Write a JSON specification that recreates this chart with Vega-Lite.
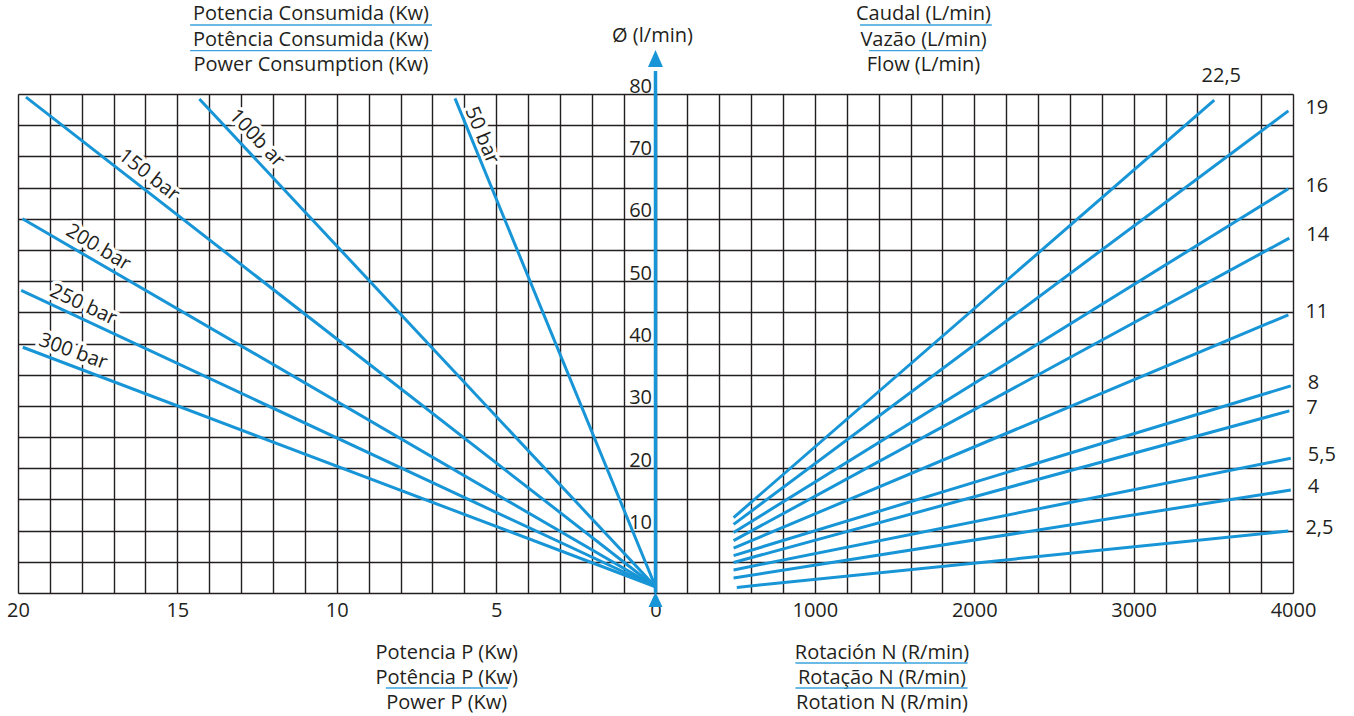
{
  "$schema": "https://vega.github.io/schema/vega-lite/v6.json",
  "width": 1275,
  "height": 499,
  "autosize": {"type": "none"},
  "padding": {"left": 18, "top": 94, "right": 61, "bottom": 123},
  "background": "white",
  "config": {
    "view": {"stroke": null},
    "font": "Open Sans",
    "text": {"fontSize": 20, "color": "#231f20"},
    "axis": {"labelFontSize": 20, "labelColor": "#231f20", "labelFont": "Open Sans"}
  },
  "datasets": {
    "pressureLines": [
      {"pressure": "50 bar", "power": 6.29, "flow": 79.3}, {"pressure": "50 bar", "power": 0, "flow": 1},
      {"pressure": "100 bar", "power": 14.31, "flow": 79.2}, {"pressure": "100 bar", "power": 0, "flow": 1},
      {"pressure": "150 bar", "power": 19.75, "flow": 79.5}, {"pressure": "150 bar", "power": 0, "flow": 1},
      {"pressure": "200 bar", "power": 19.86, "flow": 60.0}, {"pressure": "200 bar", "power": 0, "flow": 1},
      {"pressure": "250 bar", "power": 19.9, "flow": 48.5}, {"pressure": "250 bar", "power": 0, "flow": 1},
      {"pressure": "300 bar", "power": 19.85, "flow": 39.4}, {"pressure": "300 bar", "power": 0, "flow": 1}
    ],
    "pressureLabels": [
      {"pressure": 50, "label": "50 bar", "power": 5.45, "flow": 73.4},
      {"pressure": 100, "label": "100b ar", "power": 12.51, "flow": 72.9},
      {"pressure": 150, "label": "150 bar", "power": 15.89, "flow": 67.0},
      {"pressure": 200, "label": "200 bar", "power": 17.48, "flow": 55.4},
      {"pressure": 250, "label": "250 bar", "power": 17.95, "flow": 46.2},
      {"pressure": 300, "label": "300 bar", "power": 18.27, "flow": 38.7}
    ],
    "rpmLines": [
      {"cc": "22,5", "rpm": 490, "flow": 12.1}, {"cc": "22,5", "rpm": 3506, "flow": 79.0},
      {"cc": "19", "rpm": 490, "flow": 11.0}, {"cc": "19", "rpm": 3971, "flow": 77.3},
      {"cc": "16", "rpm": 490, "flow": 9.7}, {"cc": "16", "rpm": 3971, "flow": 64.8},
      {"cc": "14", "rpm": 490, "flow": 8.4}, {"cc": "14", "rpm": 3977, "flow": 56.9},
      {"cc": "11", "rpm": 490, "flow": 7.2}, {"cc": "11", "rpm": 3971, "flow": 44.6},
      {"cc": "8", "rpm": 490, "flow": 6.0}, {"cc": "8", "rpm": 3986, "flow": 33.2},
      {"cc": "7", "rpm": 490, "flow": 4.9}, {"cc": "7", "rpm": 3977, "flow": 29.2},
      {"cc": "5,5", "rpm": 490, "flow": 3.7}, {"cc": "5,5", "rpm": 3986, "flow": 21.6},
      {"cc": "4", "rpm": 490, "flow": 2.4}, {"cc": "4", "rpm": 3986, "flow": 16.5},
      {"cc": "2,5", "rpm": 510, "flow": 0.9}, {"cc": "2,5", "rpm": 3971, "flow": 9.94}
    ]
  },
  "resolve": {"scale": {"x": "independent"}, "axis": {"x": "independent"}},
  "layer": [
    {
      "layer": [
        {
          "data": {"name": "pressureLabels"},
          "mark": {"type": "text", "align": "center", "baseline": "middle", "color": "white", "stroke": "white", "strokeWidth": 7, "strokeJoin": "round"},
          "encoding": {
            "x": {
              "field": "power", "type": "quantitative",
              "scale": {"domain": [-20, 20], "reverse": true, "nice": false, "zero": false},
              "axis": {
                "orient": "bottom", "title": null, "tickCount": 200, "format": "d",
                "values": [-20,-19,-18,-17,-16,-15,-14,-13,-12,-11,-10,-9,-8,-7,-6,-5,-4,-3,-2,-1,0,1,2,3,4,5,6,7,8,9,10,11,12,13,14,15,16,17,18,19,20],
                "grid": true, "gridColor": "#231f20", "gridWidth": 1.4, "gridOpacity": 1,
                "ticks": false, "domain": false, "labelPadding": 7, "labelFlush": false, "labelOverlap": false,
                "labelExpr": "datum.value >= 0 && datum.value % 5 === 0 ? datum.label : ''"
              }
            },
            "y": {
              "field": "flow", "type": "quantitative",
              "scale": {"domain": [0, 80], "nice": false},
              "axis": {
                "orient": "left", "offset": -637.5, "title": null, "tickCount": 200, "format": "d",
                "values": [0,5,10,15,20,25,30,35,40,45,50,55,60,65,70,75,80],
                "grid": true, "gridColor": "#231f20", "gridWidth": 1.4, "gridOpacity": 1,
                "ticks": false, "domain": false, "labelPadding": 4, "labelOverlap": false, "labelFlush": false,
                "labelAlign": "right", "labelBaseline": "alphabetic", "labelOffset": -2,
                "labelExpr": "datum.value > 0 && datum.value % 10 === 0 ? datum.label : ''"
              }
            },
            "text": {"field": "label"},
            "angle": {"field": "pressure", "type": "quantitative", "scale": {"domain": [50, 100, 150, 200, 250, 300], "range": [67.7, 47, 38, 31, 25, 20]}}
          }
        },
        {
          "data": {"name": "pressureLines"},
          "mark": {"type": "line", "color": "#1795d6", "strokeWidth": 3},
          "encoding": {
            "x": {"field": "power", "type": "quantitative"},
            "y": {"field": "flow", "type": "quantitative"},
            "detail": {"field": "pressure"}
          }
        },
        {
          "data": {"name": "pressureLabels"},
          "mark": {"type": "text", "align": "center", "baseline": "middle"},
          "encoding": {
            "x": {"field": "power", "type": "quantitative"},
            "y": {"field": "flow", "type": "quantitative"},
            "text": {"field": "label"},
            "angle": {"field": "pressure", "type": "quantitative"}
          }
        },
        {
          "data": {"values": [{}]},
          "mark": {"type": "text", "align": "center", "baseline": "alphabetic", "lineHeight": 25.7,
                   "text": ["Potencia Consumida (Kw)", "Potência Consumida (Kw)", "Power Consumption (Kw)"]},
          "encoding": {"x": {"datum": 10.81}, "y": {"datum": 91.86}}
        },
        {
          "data": {"values": [{}]},
          "mark": {"type": "text", "align": "center", "baseline": "alphabetic", "lineHeight": 25,
                   "text": ["Potencia P (Kw)", "Potência P (Kw)", "Power P (Kw)"]},
          "encoding": {"x": {"datum": 6.55}, "y": {"datum": -10.58}}
        },
        {
          "data": {"values": [{}]},
          "mark": {"type": "rule", "color": "#3aa3dc", "strokeWidth": 1.3},
          "encoding": {"x": {"datum": 14.6}, "x2": {"datum": 7.01}, "y": {"datum": 91.06}}
        },
        {
          "data": {"values": [{}]},
          "mark": {"type": "rule", "color": "#3aa3dc", "strokeWidth": 1.3},
          "encoding": {"x": {"datum": 14.6}, "x2": {"datum": 7.01}, "y": {"datum": 86.94}}
        },
        {
          "data": {"values": [{}]},
          "mark": {"type": "rule", "color": "#3aa3dc", "strokeWidth": 1.3},
          "encoding": {"x": {"datum": 8.46}, "x2": {"datum": 4.63}, "y": {"datum": -15.23}}
        }
      ]
    },
    {
      "layer": [
        {
          "data": {"name": "rpmLines"},
          "mark": {"type": "line", "color": "#1795d6", "strokeWidth": 3},
          "encoding": {
            "x": {
              "field": "rpm", "type": "quantitative",
              "scale": {"domain": [-4000, 4000], "nice": false, "zero": false},
              "axis": {
                "orient": "bottom", "title": null, "values": [1000, 2000, 3000, 4000], "format": "d", "tickCount": 200,
                "grid": false, "ticks": false, "domain": false, "labelPadding": 7, "labelFlush": false, "labelOverlap": false
              }
            },
            "y": {"field": "flow", "type": "quantitative"},
            "detail": {"field": "cc"}
          }
        },
        {
          "data": {"name": "rpmLines"},
          "transform": [{"filter": "datum.rpm > 3600"}],
          "mark": {"type": "text", "align": "left", "baseline": "middle", "dx": 17, "dy": -3},
          "encoding": {
            "x": {"field": "rpm", "type": "quantitative"},
            "y": {"field": "flow", "type": "quantitative"},
            "text": {"field": "cc"}
          }
        },
        {
          "data": {"name": "rpmLines"},
          "transform": [{"filter": "datum.cc === '22,5' && datum.rpm > 3000"}],
          "mark": {"type": "text", "align": "center", "baseline": "middle", "dx": 7, "dy": -24.5},
          "encoding": {
            "x": {"field": "rpm", "type": "quantitative"},
            "y": {"field": "flow", "type": "quantitative"},
            "text": {"field": "cc"}
          }
        },
        {
          "data": {"values": [{}]},
          "mark": {"type": "rule", "color": "#1795d6", "strokeWidth": 3.5},
          "encoding": {"x": {"datum": 0}, "y": {"datum": 0}, "y2": {"datum": 83.7}}
        },
        {
          "data": {"values": [{}]},
          "mark": {"type": "point", "shape": "M0,-1L0.88,1L-0.88,1Z", "filled": true, "color": "#1795d6", "size": 289, "opacity": 1},
          "encoding": {"x": {"datum": 0}, "y": {"datum": 85.7}}
        },
        {
          "data": {"values": [{}]},
          "mark": {"type": "point", "shape": "M0,-1L0.93,1L-0.93,1Z", "filled": true, "color": "#1795d6", "size": 225, "opacity": 1},
          "encoding": {"x": {"datum": 0}, "y": {"datum": -1.04}}
        },
        {
          "data": {"values": [{}]},
          "mark": {"type": "text", "align": "center", "baseline": "alphabetic", "text": "Ø (l/min)"},
          "encoding": {"x": {"datum": -19}, "y": {"datum": 88.34}}
        },
        {
          "data": {"values": [{}]},
          "mark": {"type": "text", "align": "center", "baseline": "alphabetic", "lineHeight": 25.7,
                   "text": ["Caudal (L/min)", "Vazão (L/min)", "Flow (L/min)"]},
          "encoding": {"x": {"datum": 1681.6}, "y": {"datum": 91.86}}
        },
        {
          "data": {"values": [{}]},
          "mark": {"type": "text", "align": "center", "baseline": "alphabetic", "lineHeight": 25,
                   "text": ["Rotación N (R/min)", "Rotação N (R/min)", "Rotation N (R/min)"]},
          "encoding": {"x": {"datum": 1421}, "y": {"datum": -10.58}}
        },
        {
          "data": {"values": [{}]},
          "mark": {"type": "rule", "color": "#3aa3dc", "strokeWidth": 1.3},
          "encoding": {"x": {"datum": 1283}, "x2": {"datum": 2110}, "y": {"datum": 91.06}}
        },
        {
          "data": {"values": [{}]},
          "mark": {"type": "rule", "color": "#3aa3dc", "strokeWidth": 1.3},
          "encoding": {"x": {"datum": 1340}, "x2": {"datum": 2055}, "y": {"datum": 86.94}}
        },
        {
          "data": {"values": [{}]},
          "mark": {"type": "rule", "color": "#3aa3dc", "strokeWidth": 1.3},
          "encoding": {"x": {"datum": 878}, "x2": {"datum": 1958}, "y": {"datum": -11.22}}
        },
        {
          "data": {"values": [{}]},
          "mark": {"type": "rule", "color": "#3aa3dc", "strokeWidth": 1.3},
          "encoding": {"x": {"datum": 878}, "x2": {"datum": 1958}, "y": {"datum": -15.23}}
        }
      ]
    }
  ]
}
